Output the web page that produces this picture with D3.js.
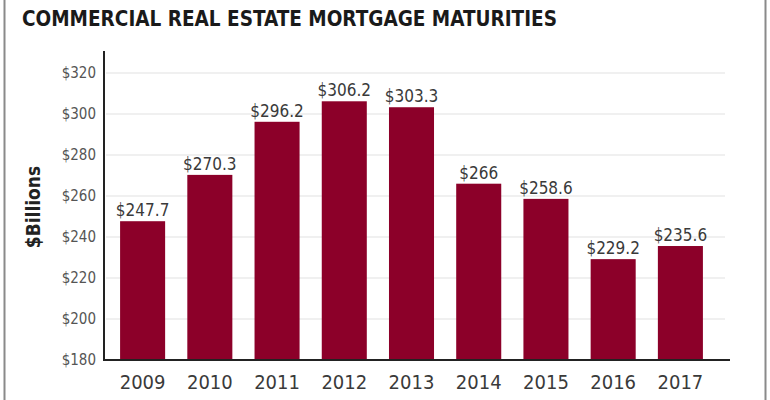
<!DOCTYPE html>
<html>
<head>
<meta charset="utf-8">
<script src="https://cdn.jsdelivr.net/npm/d3@7"></script>
<style>
  body { margin: 0; background: #fff; }
  svg { display: block; }
  .cond { font-family: "Liberation Sans Narrow", "DejaVu Sans Condensed", "Arial Narrow", sans-serif; font-stretch: condensed; }
</style>
</head>
<body>
<svg id="chart" width="770" height="400"></svg>
<script>
const title = "COMMERCIAL REAL ESTATE MORTGAGE MATURITIES";
const yAxisLabel = "$Billions";
const years = ["2009", "2010", "2011", "2012", "2013", "2014", "2015", "2016", "2017"];
const maturities = [247.7, 270.3, 296.2, 306.2, 303.3, 266, 258.6, 229.2, 235.6];
const valueLabels = ["$247.7", "$270.3", "$296.2", "$306.2", "$303.3", "$266", "$258.6", "$229.2", "$235.6"];
const yTicks = [180, 200, 220, 240, 260, 280, 300, 320];

const svg = d3.select("#chart");
const W = 770, H = 400;

// frame side lines
svg.append("line").attr("x1", 4.5).attr("x2", 4.5).attr("y1", 0).attr("y2", H)
  .attr("stroke", "#8a8a8a").attr("stroke-width", 2);
svg.append("line").attr("x1", 765.5).attr("x2", 765.5).attr("y1", 0).attr("y2", H)
  .attr("stroke", "#8a8a8a").attr("stroke-width", 2);

// title
svg.append("text").attr("class", "cond")
  .attr("x", 22).attr("y", 26)
  .attr("font-size", 21).attr("font-weight", "bold").attr("fill", "#1a1a1a")
  .attr("textLength", 535).attr("lengthAdjust", "spacingAndGlyphs")
  .text(title);

const y = d3.scaleLinear().domain([180, 320]).range([360, 73]);
const x = d3.scaleBand().domain(years).range([109, 714]).paddingInner(0.33).paddingOuter(0.165);

// gridlines
svg.append("g").selectAll("line").data(yTicks.filter(t => t > 180)).join("line")
  .attr("x1", 106).attr("x2", 725)
  .attr("y1", d => y(d)).attr("y2", d => y(d))
  .attr("stroke", "#ebebeb").attr("stroke-width", 1.5);

// y axis (labels only, custom line)
const yAxis = d3.axisLeft(y).tickValues(yTicks).tickSize(0).tickPadding(8)
  .tickFormat(d => "$" + d);
const gy = svg.append("g").attr("transform", "translate(104,0)").call(yAxis);
gy.select(".domain").remove();
gy.selectAll("text").attr("class", "cond").attr("font-size", 15).attr("fill", "#555")
  .attr("font-family", null);

// bars
svg.append("g").selectAll("rect").data(maturities).join("rect")
  .attr("x", (d, i) => x(years[i]))
  .attr("width", x.bandwidth())
  .attr("y", d => y(d))
  .attr("height", d => y(180) - y(d))
  .attr("fill", "#8c0029");

// value labels
svg.append("g").selectAll("text").data(maturities).join("text")
  .attr("class", "cond")
  .attr("x", (d, i) => x(years[i]) + x.bandwidth() / 2)
  .attr("y", d => y(d) - 5)
  .attr("text-anchor", "middle")
  .attr("font-size", 17).attr("fill", "#3a3a3a")
  .text((d, i) => valueLabels[i]);

// x axis labels
const xAxis = d3.axisBottom(x).tickSize(0).tickPadding(15);
const gx = svg.append("g").attr("transform", "translate(0,360)").call(xAxis);
gx.select(".domain").remove();
gx.selectAll("text").attr("class", "cond").attr("font-size", 20).attr("fill", "#3a3a3a")
  .attr("font-family", null);

// axis lines
svg.append("line").attr("x1", 104).attr("x2", 104).attr("y1", 51).attr("y2", 361)
  .attr("stroke", "#222").attr("stroke-width", 2);
svg.append("line").attr("x1", 103).attr("x2", 730).attr("y1", 360).attr("y2", 360)
  .attr("stroke", "#222").attr("stroke-width", 2);

// y axis title
svg.append("text").attr("class", "cond")
  .attr("transform", "translate(40,207) rotate(-90)")
  .attr("text-anchor", "middle")
  .attr("font-size", 19).attr("font-weight", "bold").attr("fill", "#222")
  .text(yAxisLabel);
</script>
</body>
</html>
